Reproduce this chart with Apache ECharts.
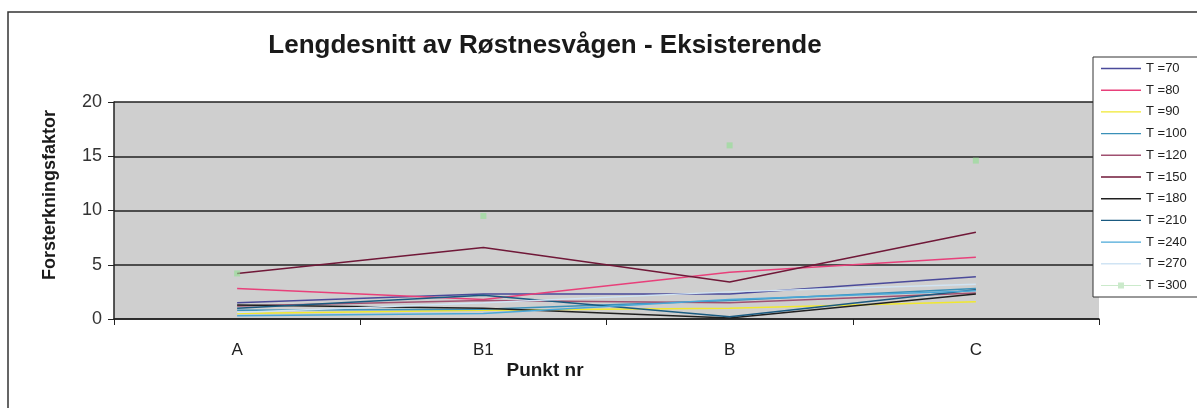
<!DOCTYPE html>
<html>
<head>
<meta charset="utf-8">
<script src="https://cdn.jsdelivr.net/npm/echarts@6/dist/echarts.min.js"></script>
<style>
  html, body { margin: 0; padding: 0; background: #fff; }
  #chart { width: 1197px; height: 408px; }
</style>
</head>
<body>
<div id="chart"></div>
<script>
const CATEGORIES = ['A', 'B1', 'B', 'C'];
const SERIES_NAMES = ['T =70', 'T =80', 'T =90', 'T =100', 'T =120', 'T =150', 'T =180', 'T =210', 'T =240', 'T =270', 'T =300'];

// verdier lest av figuren
const T70  = [1.5, 2.3, 2.3, 3.9];
const T80  = [2.8, 1.8, 4.3, 5.7];
const T90  = [0.5, 0.8, 1.0, 1.6];
const T100 = [0.8, 0.9, 1.7, 2.8];
const T120 = [1.2, 1.7, 1.5, 2.4];
const T150 = [4.2, 6.6, 3.4, 8.0];
const T180 = [1.3, 1.0, 0.1, 2.3];
const T210 = [1.0, 2.2, 0.2, 2.7];
const T240 = [0.3, 0.5, 1.8, 2.6];
const T270 = [0.6, 1.5, 2.5, 3.2];
const T300 = [4.2, 9.5, 16.0, 14.6];

const Y_TICKS = [0, 5, 10, 15, 20];
const COLORS = ['#4a4a9a', '#e8407a', '#f0e830', '#3a90b8', '#a05070', '#701838', '#202020', '#1a5a80', '#4aa8d8', '#d0e4f4', '#90e090'];

const DATA = [T70, T80, T90, T100, T120, T150, T180, T210, T240, T270, T300];

// legendikoner: strek, og strek med firkant for T=300
const LINE_ICON = 'path://M0,5.3 H40 V6.7 H0 Z';
const MARK_ICON = 'path://M0,5.4 H17 V3 H23 V5.4 H40 V6.6 H23 V9 H17 V6.6 H0 Z';

const chart = echarts.init(document.getElementById('chart'));

const series = DATA.map((d, i) => {
    const isMarker = i === DATA.length - 1;   // T=300 vises bare som punkter
    return {
        name: SERIES_NAMES[i],
        type: 'line',
        data: d,
        symbol: isMarker ? 'rect' : 'none',
        symbolSize: 6,
        color: COLORS[i],
        itemStyle: { color: COLORS[i], opacity: isMarker ? 0.6 : 1 },
        lineStyle: { color: COLORS[i], width: 1.5, opacity: isMarker ? 0 : 1 },
        emphasis: { disabled: true },
        animation: false
    };
});

chart.setOption({
    backgroundColor: '#fff',
    title: [
        {
            text: 'Lengdesnitt av Røstnesvågen - Eksisterende',
            left: 540, top: 28, textAlign: 'center',
            textStyle: { fontFamily: 'Liberation Sans', fontSize: 26, fontWeight: 'bold', color: '#1a1a1a' }
        },
        {
            text: 'Punkt nr',
            left: 540, top: 356, textAlign: 'center',
            textStyle: { fontFamily: 'Liberation Sans', fontSize: 19, fontWeight: 'bold', color: '#1a1a1a' }
        }
    ],
    legend: {
        orient: 'vertical',
        left: 1093, top: 57,
        padding: [5, 20, 5, 8],
        itemWidth: 40, itemHeight: 12,
        itemGap: 8.7,
        borderColor: '#333', borderWidth: 1,
        backgroundColor: '#fff',
        textStyle: { fontFamily: 'Liberation Sans', fontSize: 13, color: '#222' },
        data: SERIES_NAMES.map((n, i) => i === SERIES_NAMES.length - 1
            ? { name: n, icon: MARK_ICON, itemStyle: { color: '#a8dca8' } }
            : { name: n, icon: LINE_ICON })
    },
    grid: { left: 114, right: 98, top: 102, bottom: 89, show: true, backgroundColor: '#cfcfcf', borderWidth: 0 },
    xAxis: {
        type: 'category',
        data: CATEGORIES,
        boundaryGap: true,
        axisLine: { lineStyle: { color: '#222', width: 1.5 } },
        axisTick: { show: true, lineStyle: { color: '#222' }, length: 6 },
        axisLabel: { fontFamily: 'Liberation Sans', fontSize: 17, color: '#222', margin: 23 }
    },
    yAxis: {
        type: 'value',
        min: Y_TICKS[0], max: Y_TICKS[Y_TICKS.length - 1], interval: 5,
        axisLine: { show: true, lineStyle: { color: '#222', width: 1.5 } },
        axisTick: { show: true, inside: false, length: 6, lineStyle: { color: '#222' } },
        axisLabel: { fontFamily: 'Liberation Sans', fontSize: 18, color: '#333', margin: 12 },
        splitLine: { lineStyle: { color: '#222', width: 1.5 } }
    },
    graphic: [
        {
            type: 'polyline',
            shape: { points: [[8, 408], [8, 12], [1197, 12]] },
            style: { stroke: '#333', lineWidth: 1.5, fill: null },
            silent: true
        },
        {
            type: 'text',
            x: 50, y: 195,
            rotation: Math.PI / 2,
            style: {
                text: 'Forsterkningsfaktor',
                font: 'bold 18px "Liberation Sans"',
                fill: '#1a1a1a',
                align: 'center', verticalAlign: 'middle'
            },
            silent: true
        }
    ],
    series
});
</script>
</body>
</html>
